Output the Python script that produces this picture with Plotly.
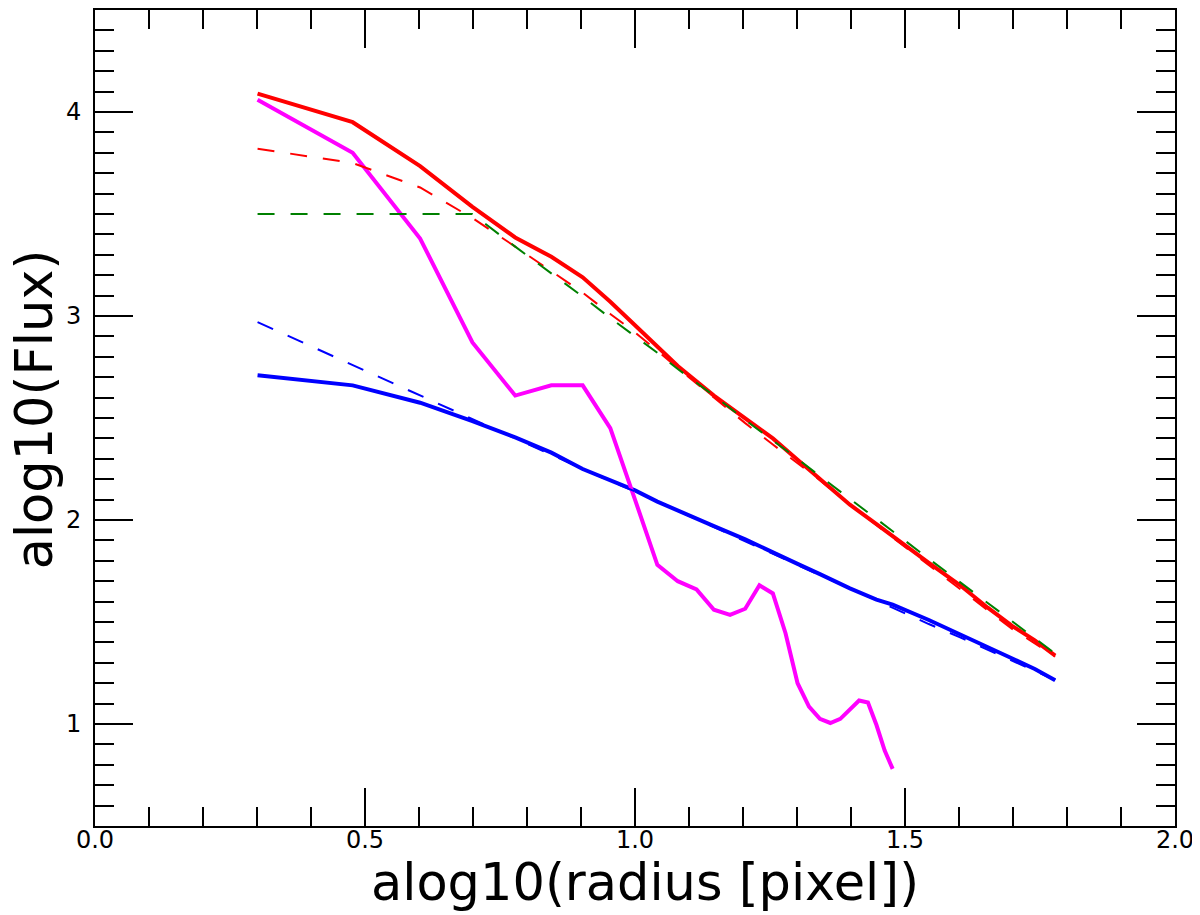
import numpy as np
import plotly.graph_objects as go

# radii (pixel) sampled by the profiles
radius = [2, 3, 4, 5, 6, 7, 8, 9, 10, 11, 12, 14, 16, 18, 20, 22, 25, 28, 30,
          35, 40, 45, 50, 55, 60]
radius_mag = [2, 3, 4, 5, 6, 7, 8, 9, 10, 11, 12, 13, 14, 15, 16, 17, 18, 19, 20,
              21, 22, 23, 24, 25, 26, 27, 28, 29, 30]

# log10 flux
red_solid = [4.09, 3.95, 3.735, 3.535, 3.385, 3.29, 3.19, 3.07, 2.955, 2.85, 2.755,
             2.61, 2.50, 2.40, 2.295, 2.20, 2.075, 1.98, 1.92, 1.79, 1.68, 1.57,
             1.48, 1.41, 1.335]
blue_solid = [2.71, 2.66, 2.575, 2.485, 2.405, 2.33, 2.25, 2.195, 2.145, 2.09, 2.045,
              1.97, 1.905, 1.84, 1.785, 1.735, 1.665, 1.61, 1.585, 1.51, 1.44, 1.375,
              1.32, 1.27, 1.215]
red_model = [3.82, 3.75, 3.63, 3.48, 3.34, 3.22, 3.115, 3.01, 2.92, 2.83, 2.745,
             2.60, 2.475, 2.37, 2.28, 2.195, 2.075, 1.975, 1.915, 1.78, 1.66, 1.555,
             1.465, 1.395, 1.33]
green_model = [3.50, 3.50, 3.50, 3.50, 3.34, 3.21, 3.095, 2.99, 2.90, 2.82, 2.74,
               2.61, 2.49, 2.39, 2.30, 2.215, 2.105, 2.005, 1.945, 1.81, 1.695, 1.595,
               1.50, 1.42, 1.345]
blue_model = [2.97, 2.76, 2.61, 2.495, 2.40, 2.32, 2.25, 2.19, 2.14, 2.09, 2.045,
              1.965, 1.895, 1.835, 1.78, 1.73, 1.665, 1.605, 1.57, 1.49, 1.425, 1.365,
              1.31, 1.26, 1.215]
magenta = [4.06, 3.80, 3.38, 2.87, 2.61, 2.66, 2.66, 2.45, 2.10, 1.78, 1.70, 1.66,
           1.56, 1.535, 1.565, 1.68, 1.64, 1.445, 1.20, 1.085, 1.025, 1.005, 1.025,
           1.07, 1.115, 1.105, 0.995, 0.87, 0.78]

x = np.log10(radius)
xm = np.log10(radius_mag)

FONT = "DejaVu Sans"

fig = go.Figure()
fig.add_trace(go.Scatter(x=x, y=red_solid, mode="lines", line=dict(color="#ff0000", width=4)))
fig.add_trace(go.Scatter(x=x, y=blue_solid, mode="lines", line=dict(color="#0000ff", width=4)))
fig.add_trace(go.Scatter(x=xm, y=magenta, mode="lines", line=dict(color="#ff00ff", width=4)))
fig.add_trace(go.Scatter(x=x, y=red_model, mode="lines",
                         line=dict(color="#ff0000", width=2, dash="17px,16px")))
fig.add_trace(go.Scatter(x=x, y=green_model, mode="lines",
                         line=dict(color="#008000", width=2, dash="17px,16px")))
fig.add_trace(go.Scatter(x=x, y=blue_model, mode="lines",
                         line=dict(color="#0000ff", width=2, dash="17px,16px")))

axis_style = dict(
    showline=True, linecolor="black", linewidth=2, mirror="ticks",
    ticks="inside", ticklen=38, tickwidth=2, tickcolor="black",
    showgrid=False, zeroline=False,
    tickfont=dict(family=FONT, size=24, color="black"),
    minor=dict(dtick=0.1, ticks="inside", ticklen=19, tickwidth=2,
               tickcolor="black", showgrid=False),
)

fig.update_xaxes(range=[0, 2], tick0=0, dtick=0.5, tickformat=".1f",
                 ticklabelstandoff=-9, **axis_style)
fig.update_yaxes(range=[0.5, 4.5], tick0=0, dtick=1, ticklabelstandoff=7, **axis_style)

fig.add_annotation(text="alog10(radius [pixel])", xref="paper", yref="paper",
                   x=0.509, y=-0.069, xanchor="center", yanchor="middle", showarrow=False,
                   font=dict(family=FONT, size=51, color="black"))
fig.add_annotation(text="alog10(Flux)", xref="paper", yref="paper",
                   x=-0.056, y=0.51, xanchor="center", yanchor="middle", showarrow=False,
                   textangle=-90, font=dict(family=FONT, size=51, color="black"))

# page body adds an 8px margin, so the figure is 8px smaller than the window
fig.update_layout(
    width=1192, height=907,
    margin=dict(l=87, r=25, t=0, b=89),
    paper_bgcolor="white", plot_bgcolor="white",
    showlegend=False,
)

fig.write_html("out.html")
